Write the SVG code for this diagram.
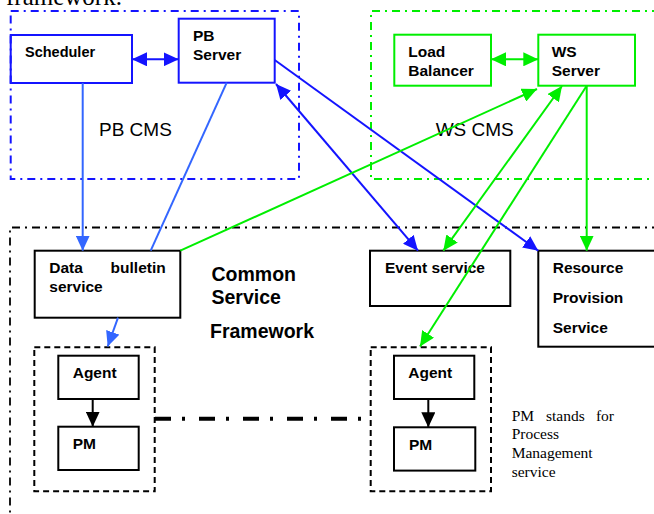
<svg xmlns="http://www.w3.org/2000/svg" width="654" height="514" viewBox="0 0 654 514">
<style>
.b{font-family:"Liberation Sans",Arial,sans-serif;font-weight:bold;font-size:15.5px;fill:#000}
.r{font-family:"Liberation Sans",Arial,sans-serif;font-size:19px;fill:#000}
.t{font-family:"Liberation Serif","Times New Roman",serif;font-size:15.5px;fill:#000}
.bluebox{fill:none;stroke:#1414ff;stroke-width:2}
.greenbox{fill:none;stroke:#00ee00;stroke-width:2}
.blackbox{fill:none;stroke:#000;stroke-width:2}
.grpblue{fill:none;stroke:#1414ff;stroke-width:2;stroke-dasharray:8 5 2 5}
.grpgreen{fill:none;stroke:#00ee00;stroke-width:2;stroke-dasharray:8 5 2 5}
.grpblack{fill:none;stroke:#000;stroke-width:1.8;stroke-dasharray:8 5 2 5}
.dash{fill:none;stroke:#000;stroke-width:2;stroke-dasharray:6 4}
.cb{stroke:#1414ff;stroke-width:2;fill:none}
.cl{stroke:#3366ff;stroke-width:2;fill:none}
.cg{stroke:#00ee00;stroke-width:2;fill:none}
.ck{stroke:#000;stroke-width:2;fill:none}
</style>
<defs>
<marker id="ab" viewBox="0 0 15 14" refX="15" refY="7" markerWidth="15" markerHeight="14" markerUnits="userSpaceOnUse" orient="auto-start-reverse"><path d="M0,0 L15,7 L0,14 z" fill="#1414ff"/></marker>
<marker id="al" viewBox="0 0 15 14" refX="15" refY="7" markerWidth="15" markerHeight="14" markerUnits="userSpaceOnUse" orient="auto-start-reverse"><path d="M0,0 L15,7 L0,14 z" fill="#3366ff"/></marker>
<marker id="ag" viewBox="0 0 15 14" refX="15" refY="7" markerWidth="15" markerHeight="14" markerUnits="userSpaceOnUse" orient="auto-start-reverse"><path d="M0,0 L15,7 L0,14 z" fill="#00ee00"/></marker>
<marker id="ak" viewBox="0 0 15 14" refX="15" refY="7" markerWidth="15" markerHeight="14" markerUnits="userSpaceOnUse" orient="auto-start-reverse"><path d="M0,0 L15,7 L0,14 z" fill="#000"/></marker>
</defs>
<rect width="654" height="514" fill="#fff"/>
<text x="6" y="5" font-family="Liberation Serif,'Times New Roman',serif" font-size="25">framework.</text>

<g id="pb-cms">
<rect class="grpblue" x="10.7" y="11" width="288.3" height="168"/>
<text class="r" x="99" y="136">PB CMS</text>
</g>
<g id="ws-cms">
<path class="grpgreen" d="M660,11 H371 V179 H660"/>
<text class="r" x="435.7" y="136">WS CMS</text>
</g>
<g id="common-service-framework">
<path class="grpblack" d="M660,227.5 H10 V520"/>
<text class="b" x="211.5" y="280.7" style="font-size:19.5px">Common</text>
<text class="b" x="211.5" y="304.3" style="font-size:19.5px">Service</text>
<text class="b" x="210" y="337.7" style="font-size:19.5px">Framework</text>
</g>

<g id="scheduler">
<rect class="bluebox" x="10.7" y="35" width="121.3" height="48"/>
<text class="b" x="25" y="57" style="font-size:14.5px">Scheduler</text>
</g>
<g id="pb-server">
<rect class="bluebox" x="178.7" y="18.7" width="96" height="64"/>
<text class="b" x="193" y="40.7">PB</text>
<text class="b" x="193" y="60">Server</text>
</g>
<g id="load-balancer">
<rect class="greenbox" x="394.3" y="34.7" width="96.7" height="51"/>
<text class="b" x="408.3" y="56.7">Load</text>
<text class="b" x="408.3" y="76">Balancer</text>
</g>
<g id="ws-server">
<rect class="greenbox" x="538.3" y="34.7" width="96.7" height="51"/>
<text class="b" x="551.7" y="56.7">WS</text>
<text class="b" x="551.7" y="76">Server</text>
</g>
<g id="data-bulletin-service">
<rect class="blackbox" x="34.7" y="250.7" width="145.6" height="67"/>
<text class="b" x="49.3" y="273.3">Data</text>
<text class="b" x="165.7" y="273.3" text-anchor="end">bulletin</text>
<text class="b" x="49.3" y="291.7">service</text>
</g>
<g id="event-service">
<rect class="blackbox" x="370" y="250.7" width="140.3" height="55.3"/>
<text class="b" x="385" y="273.3">Event service</text>
</g>
<g id="resource-provision-service">
<rect class="blackbox" x="538.3" y="250.7" width="130" height="96"/>
<text class="b" x="552.7" y="273.3">Resource</text>
<text class="b" x="552.7" y="303.3">Provision</text>
<text class="b" x="552.7" y="332.7">Service</text>
</g>
<g id="agent-group-1">
<rect class="dash" x="34.3" y="347.3" width="120.4" height="144"/>
</g>
<g id="agent-1">
<rect class="blackbox" x="58.3" y="355.7" width="80.4" height="43.3"/>
<text class="b" x="72.7" y="378.3">Agent</text>
</g>
<g id="pm-1">
<rect class="blackbox" x="58.3" y="426.7" width="80.4" height="43.3"/>
<text class="b" x="72.7" y="449.3">PM</text>
</g>
<g id="agent-group-2">
<rect class="dash" x="370.7" y="347.3" width="120.3" height="144"/>
</g>
<g id="agent-2">
<rect class="blackbox" x="394" y="355.7" width="80.3" height="43.3"/>
<text class="b" x="408.3" y="378.3">Agent</text>
</g>
<g id="pm-2">
<rect class="blackbox" x="394" y="427.3" width="81.3" height="43.3"/>
<text class="b" x="409" y="449.7">PM</text>
</g>
<g id="note">
<text class="t" x="511.7" y="420.7">PM</text>
<text class="t" x="546" y="420.7">stands</text>
<text class="t" x="614" y="420.7" text-anchor="end">for</text>
<text class="t" x="511.7" y="439.3">Process</text>
<text class="t" x="511.7" y="458.3">Management</text>
<text class="t" x="511.7" y="477.3">service</text>
</g>

<g id="connectors">
<line class="cb" x1="132" y1="59.3" x2="178.7" y2="59.3" marker-start="url(#ab)" marker-end="url(#ab)"/>
<line class="cg" x1="491" y1="59.3" x2="538.3" y2="59.3" marker-start="url(#ag)" marker-end="url(#ag)"/>
<line class="cl" x1="82.7" y1="83" x2="82.7" y2="250.7" marker-end="url(#al)"/>
<line class="cl" x1="226.7" y1="82.7" x2="150.7" y2="250.7"/>
<line class="cl" x1="118" y1="317.7" x2="107.7" y2="346.5" marker-end="url(#al)"/>
<line class="cb" x1="274.7" y1="60" x2="538.3" y2="250.7" marker-end="url(#ab)"/>
<line class="cb" x1="276" y1="84" x2="418" y2="250.7" marker-start="url(#ab)" marker-end="url(#ab)"/>
<line class="cg" x1="180.3" y1="250.7" x2="537" y2="89" marker-end="url(#ag)"/>
<line class="cg" x1="443.3" y1="250.7" x2="562" y2="86" marker-start="url(#ag)" marker-end="url(#ag)"/>
<line class="cg" x1="586.7" y1="85.7" x2="420" y2="346.5" marker-end="url(#ag)"/>
<line class="cg" x1="586.7" y1="85.7" x2="586.7" y2="250.7" marker-end="url(#ag)"/>
<line class="ck" x1="92.7" y1="399" x2="92.7" y2="426.7" marker-end="url(#ak)"/>
<line class="ck" x1="428.3" y1="399" x2="428.3" y2="427.3" marker-end="url(#ak)"/>
<line stroke="#000" stroke-width="4" stroke-dasharray="16 11 3 14" x1="155" y1="418.7" x2="370.7" y2="418.7"/>
</g>
</svg>
